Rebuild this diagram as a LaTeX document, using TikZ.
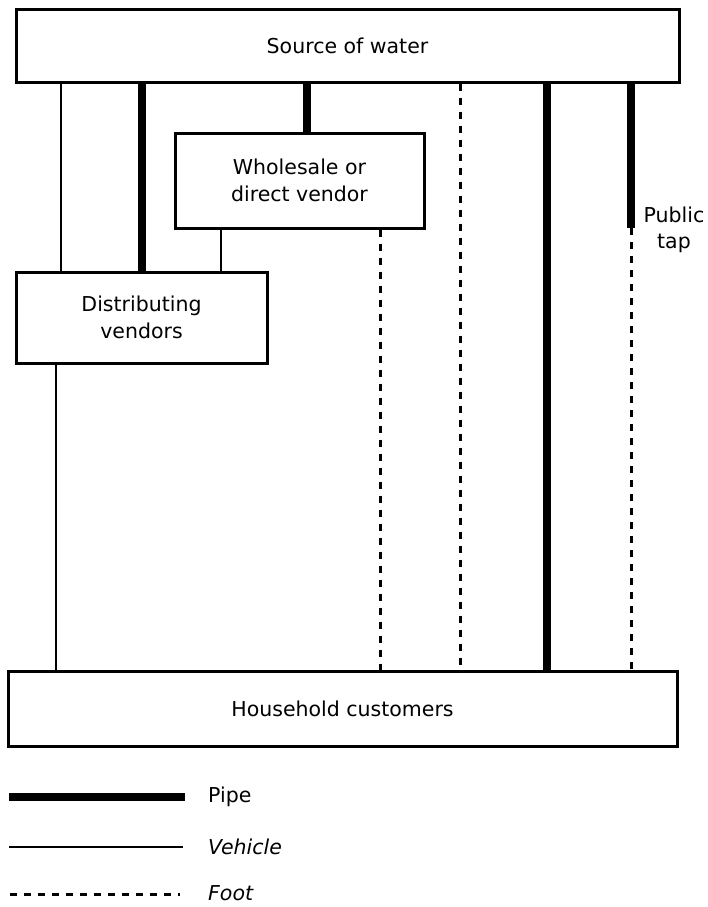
\documentclass[tikz,border=0pt]{standalone}
\usepackage{fontspec}
\setmainfont{DejaVu Sans}
\begin{document}
\begin{tikzpicture}[x=1pt,y=-1pt,
  box/.style={draw, line width=3pt, fill=white, inner sep=0pt, align=center, font=\fontsize{20.5}{27}\selectfont},
  pipe/.style={line width=7.5pt},
  vehicle/.style={line width=2.8pt},
  foot/.style={line width=3pt, dash pattern=on 7pt off 7pt},
  lbl/.style={font=\fontsize{20.5}{26}\selectfont, inner sep=0pt}]
\useasboundingbox (0,0) rectangle (708,907);
% boxes
\node[box, minimum width=663pt, minimum height=72pt] (src) at (347.5,46) {Source of water};
\node[box, minimum width=249pt, minimum height=95pt] (whole) at (299.5,180.5) {Wholesale or\\direct vendor};
\node[box, minimum width=251pt, minimum height=91pt] (dist) at (141.5,317.5) {Distributing\\vendors};
\node[box, minimum width=669pt, minimum height=75pt] (house) at (342.5,708.5) {Household customers};
% x positions
\coordinate (xa) at (61,0);
\coordinate (xb) at (142,0);
\coordinate (xc) at (307,0);
\coordinate (xd) at (460,0);
\coordinate (xe) at (547,0);
\coordinate (xf) at (631,0);
\coordinate (xg) at (221,0);
\coordinate (xh) at (380,0);
\coordinate (xi) at (56,0);
\coordinate (tap) at (631,228);
% connectors
\draw[vehicle] (src.south -| xa) -- (dist.north -| xa);
\draw[pipe] (src.south -| xb) -- (dist.north -| xb);
\draw[pipe] (src.south -| xc) -- (whole.north -| xc);
\draw[foot] (src.south -| xd) -- (house.north -| xd);
\draw[pipe] (src.south -| xe) -- (house.north -| xe);
\draw[pipe] (src.south -| xf) -- (tap);
\draw[foot] (tap) -- (house.north -| xf);
\draw[vehicle] (whole.south -| xg) -- (dist.north -| xg);
\draw[foot] (whole.south -| xh) -- (house.north -| xh);
\draw[vehicle] (dist.south -| xi) -- (house.north -| xi);
\node[lbl, align=center] (taplbl) at (674,230) {Public\\tap};
% legend
\coordinate (l1a) at (9,797); \coordinate (l1b) at (185,797);
\coordinate (l2a) at (9,847); \coordinate (l2b) at (183,847);
\coordinate (l3a) at (10,894); \coordinate (l3b) at (180,894);
\draw[pipe] (l1a) -- (l1b);
\draw[vehicle] (l2a) -- (l2b);
\draw[foot] (l3a) -- (l3b);
\node[lbl, anchor=west] (tpipe) at (208,797) {Pipe};
\node[lbl, anchor=west] (tveh) at (208,847) {\itshape Vehicle};
\node[lbl, anchor=west] (tfoot) at (208,893) {\itshape Foot};
\end{tikzpicture}
\end{document}
